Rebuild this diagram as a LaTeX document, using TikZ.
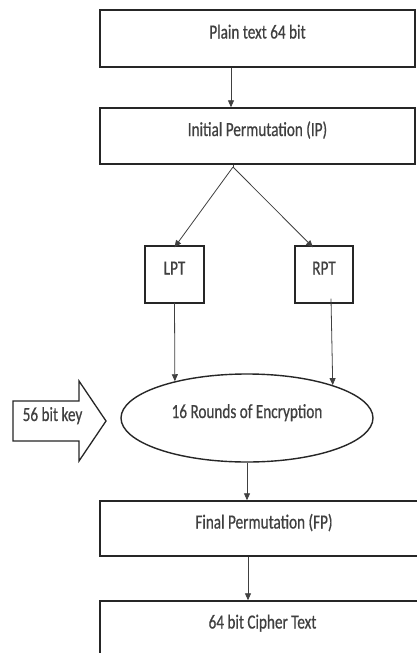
\documentclass[tikz,border=0pt]{standalone}
\usepackage{fontspec}
\setmainfont{Carlito}[FakeStretch=0.76, FakeBold=0.6]
\usetikzlibrary{arrows.meta,shapes.geometric}

\begin{document}
\begin{tikzpicture}[x=1pt,y=-1pt,
  txt/.style={inner sep=0pt, text height=8pt, text depth=8pt,
    font=\fontsize{20}{22}\selectfont, text=black!75},
  box/.style={txt, draw=black!85, line width=1.4pt},
  link/.style={draw=black!75, line width=0.8pt,
    -{Triangle[length=7pt,width=6pt]}},
  plain/.style={draw=black!75, line width=0.8pt},
]
\clip (0,0) rectangle (417,653);
\fill[white] (0,0) rectangle (417,653);

% main blocks
\node[box, minimum width=315pt, minimum height=57pt] (plain) at (257.5,38.5) {Plain text 64 bit};
\node[box, minimum width=315pt, minimum height=56pt] (ip) at (257.5,136) {Initial Permutation (IP)};
\node[box, minimum width=59pt, minimum height=57pt] (lpt) at (174.5,274.5) {LPT};
\node[box, minimum width=58pt, minimum height=57pt] (rpt) at (324,274.5) {RPT};
\node[box, ellipse, inner sep=0pt, minimum width=252pt, minimum height=88pt] (rounds) at (247,418) {16 Rounds of Encryption};
\node[box, minimum width=328pt, minimum height=55pt] (fp) at (264,528.5) {Final Permutation (FP)};
\node[box, minimum width=325pt, minimum height=55pt] (cipher) at (262.5,628.5) {64 bit Cipher Text};

% key input arrow
\draw[draw=black!85, line width=1.3pt, line join=miter]
  (13,401) -- (79,401) -- (79,381) -- (106,421) -- (79,461) -- (79,441) -- (13,441) -- cycle;
\node[txt] (key) at (52.5,421) {56 bit key};

% connectors
\coordinate (c1) at (231,0);
\coordinate (apex) at (233,167);
\coordinate (rin) at (313,0);
\coordinate (rout) at (331,0);

\draw[link] (plain.south -| c1) -- (ip.north -| c1);
\draw[plain] (ip.south -| apex) -- (apex);
\draw[link] (apex) -- ([yshift=-2pt]lpt.north);
\draw[link] (apex) -- ([yshift=-2pt]rpt.north -| rin);
\draw[link] ([yshift=1pt]lpt.south) -- (rounds.153.4);
\draw[link] ([yshift=5pt]rpt.south -| rout) -- (rounds.21.4);
\draw[link] (rounds.south) -- (fp.north -| rounds.south);
\coordinate (c2) at (248,0);
\draw[link] (fp.south -| c2) -- (cipher.north -| c2);
\end{tikzpicture}
\end{document}
